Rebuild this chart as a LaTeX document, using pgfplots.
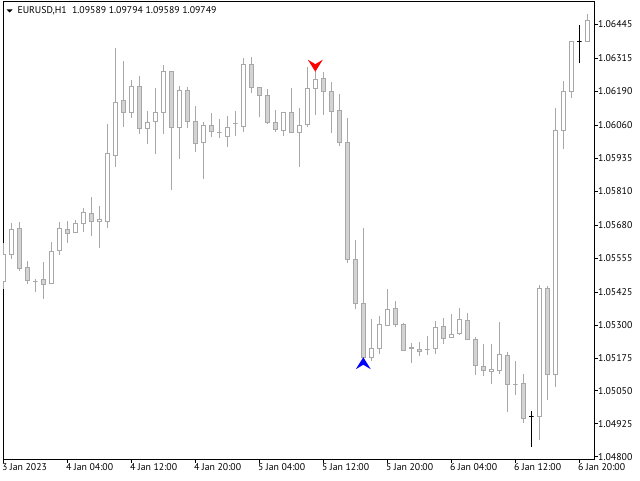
\documentclass[border=0pt]{standalone}
\usepackage{fontspec}
\setmainfont{PT Sans}
\usepackage{pgfplots}
\usepackage{pgfplotstable}
\pgfplotsset{compat=1.18}
\definecolor{wickgray}{RGB}{168,168,168}
\definecolor{bodygray}{RGB}{211,211,211}

\pgfdeclareplotmark{arrowup}{%
  \pgfpathmoveto{\pgfpoint{0pt}{0pt}}%
  \pgfpathlineto{\pgfpoint{-7.5pt}{-12pt}}%
  \pgfpathlineto{\pgfpoint{0pt}{-7.5pt}}%
  \pgfpathlineto{\pgfpoint{7.5pt}{-12pt}}%
  \pgfpathclose
  \pgfusepathqfill}
\pgfdeclareplotmark{arrowdown}{%
  \pgfpathmoveto{\pgfpoint{0pt}{0pt}}%
  \pgfpathlineto{\pgfpoint{-7.5pt}{12pt}}%
  \pgfpathlineto{\pgfpoint{0pt}{7.5pt}}%
  \pgfpathlineto{\pgfpoint{7.5pt}{12pt}}%
  \pgfpathclose
  \pgfusepathqfill}

\pgfplotsset{
  wick-u/.style={draw=wickgray, line width=1pt},
  wick-d/.style={draw=wickgray, line width=1pt},
  wick-b/.style={draw=black, line width=1pt},
  body-u/.style={draw=wickgray, fill=white, line width=1pt, line join=miter},
  body-d/.style={draw=wickgray, fill=bodygray, line width=1pt, line join=miter},
  body-b/.style={draw=black, fill=black, line width=1pt},
}

\pgfplotstableread{
k T O H L C
0 u 1.05467 1.05614 1.05437 1.05570
1 u 1.05570 1.05689 1.05553 1.05665
2 d 1.05668 1.05692 1.05507 1.05515
3 d 1.05520 1.05544 1.05458 1.05471
4 d 1.05467 1.05475 1.05427 1.05467
5 d 1.05475 1.05540 1.05401 1.05455
6 u 1.05458 1.05615 1.05455 1.05581
7 u 1.05585 1.05691 1.05568 1.05668
8 d 1.05663 1.05695 1.05614 1.05649
9 u 1.05653 1.05700 1.05649 1.05687
10 u 1.05687 1.05744 1.05654 1.05729
11 d 1.05725 1.05789 1.05640 1.05694
12 u 1.05694 1.05754 1.05595 1.05703
13 u 1.05694 1.06064 1.05671 1.05951
14 u 1.05946 1.06354 1.05903 1.06147
15 d 1.06155 1.06304 1.06055 1.06109
16 u 1.06109 1.06231 1.06087 1.06208
17 d 1.06208 1.06246 1.06026 1.06049
18 u 1.06049 1.06113 1.05988 1.06071
19 u 1.06075 1.06203 1.05950 1.06109
20 u 1.06109 1.06288 1.06026 1.06265
21 d 1.06265 1.06265 1.05813 1.06052
22 u 1.06052 1.06208 1.05931 1.06193
23 d 1.06193 1.06204 1.06049 1.06075
24 d 1.06075 1.06132 1.05957 1.05992
25 u 1.05995 1.06071 1.05855 1.06060
26 d 1.06060 1.06106 1.06014 1.06037
27 d 1.06033 1.06083 1.06011 1.06033
28 u 1.06018 1.06094 1.05976 1.06052
29 d 1.06068 1.06113 1.06018 1.06068
30 u 1.06056 1.06315 1.06033 1.06292
31 d 1.06292 1.06321 1.06184 1.06204
32 d 1.06204 1.06204 1.06090 1.06174
33 d 1.06174 1.06197 1.06064 1.06071
34 d 1.06071 1.06117 1.06036 1.06045
35 u 1.06041 1.06109 1.06018 1.06109
36 d 1.06109 1.06201 1.06030 1.06033
37 u 1.06033 1.06125 1.05903 1.06060
38 u 1.06064 1.06281 1.06052 1.06201
39 u 1.06201 1.06273 1.06098 1.06235
40 d 1.06239 1.06262 1.06100 1.06189
41 d 1.06190 1.06225 1.06032 1.06113
42 d 1.06117 1.06179 1.05982 1.05995
43 d 1.05995 1.06088 1.05535 1.05551
44 d 1.05551 1.05623 1.05360 1.05383
45 d 1.05383 1.05668 1.05178 1.05178
46 u 1.05178 1.05322 1.05163 1.05212
47 u 1.05212 1.05334 1.05189 1.05303
48 u 1.05300 1.05437 1.05296 1.05360
49 d 1.05364 1.05391 1.05292 1.05303
50 d 1.05303 1.05307 1.05205 1.05205
51 d 1.05214 1.05231 1.05155 1.05210
52 d 1.05208 1.05235 1.05182 1.05201
53 d 1.05208 1.05258 1.05186 1.05208
54 u 1.05212 1.05315 1.05189 1.05292
55 d 1.05296 1.05326 1.05227 1.05250
56 u 1.05254 1.05341 1.05250 1.05265
57 u 1.05269 1.05364 1.05262 1.05322
58 d 1.05319 1.05345 1.05243 1.05246
59 d 1.05246 1.05254 1.05110 1.05148
60 d 1.05144 1.05227 1.05106 1.05129
61 u 1.05125 1.05227 1.05075 1.05132
62 u 1.05129 1.05311 1.05113 1.05189
63 d 1.05186 1.05197 1.04969 1.05075
64 d 1.05075 1.05163 1.05033 1.05075
65 d 1.05079 1.05113 1.04927 1.04946
66 b 1.04951 1.04974 1.04836 1.04951
67 u 1.04951 1.05453 1.04865 1.05440
68 d 1.05440 1.05450 1.05016 1.05111
69 u 1.05111 1.06125 1.05064 1.06039
70 u 1.06042 1.06230 1.05969 1.06189
71 u 1.06189 1.06382 1.06165 1.06379
72 b 1.06379 1.06441 1.06296 1.06379
73 u 1.06379 1.06483 1.06379 1.06459
}\candles

\newcommand\lblfont{\fontsize{9.8}{11}\selectfont}

\begin{document}
\begin{tikzpicture}
\path[use as bounding box] (0,0) rectangle (640pt,480pt);
\begin{axis}[
  at={(3pt,21pt)}, anchor=south west,
  scale only axis, width=591pt, height=457pt,
  xmin=-0.0375, xmax=73.8375, ymin=1.04791, ymax=1.06529,
  axis line style={line width=1pt, black},
  xtick={0,8,16,24,32,40,48,56,64,72},
  xticklabels={3 Jan 2023,4 Jan 04:00,4 Jan 12:00,4 Jan 20:00,5 Jan 04:00,5 Jan 12:00,5 Jan 20:00,6 Jan 04:00,6 Jan 12:00,6 Jan 20:00},
  ytick={1.048,1.04925,1.0505,1.05175,1.053,1.05425,1.05555,1.0568,1.0581,1.05935,1.0606,1.0619,1.06315,1.06445},
  yticklabels={1.04800,1.04925,1.05050,1.05175,1.05300,1.05425,1.05555,1.05680,1.05810,1.05935,1.06060,1.06190,1.06315,1.06445},
  xtick pos=left, ytick pos=right, yticklabel pos=right,
  tick align=outside, major tick length=4pt,
  tick style={line width=1pt, black},
  xticklabel style={anchor=north west, inner sep=0pt, xshift=-1.5pt, font=\lblfont},
  yticklabel style={anchor=west, inner sep=0pt, font=\lblfont},
  clip=true,
]
\pgfplotstablegetrowsof{\candles}
\pgfmathtruncatemacro\lastrow{\pgfplotsretval-1}
\pgfplotsforeachungrouped \i in {0,...,\lastrow}{%
  \pgfplotstablegetelem{\i}{k}\of\candles \let\ck\pgfplotsretval
  \pgfplotstablegetelem{\i}{T}\of\candles \let\ct\pgfplotsretval
  \pgfplotstablegetelem{\i}{O}\of\candles \let\cO\pgfplotsretval
  \pgfplotstablegetelem{\i}{H}\of\candles \let\cH\pgfplotsretval
  \pgfplotstablegetelem{\i}{L}\of\candles \let\cL\pgfplotsretval
  \pgfplotstablegetelem{\i}{C}\of\candles \let\cC\pgfplotsretval
  \pgfmathsetmacro\xl{\ck-0.28}%
  \pgfmathsetmacro\xr{\ck+0.28}%
  \edef\temp{%
    \noexpand\addplot[wick-\ct] coordinates {(\ck,\cL) (\ck,\cH)};
    \noexpand\addplot[body-\ct] coordinates {(\xl,\cO) (\xr,\cO) (\xr,\cC) (\xl,\cC) (\xl,\cO)};
  }%
  \temp
}
\addplot[only marks, mark=arrowdown, color=red, mark options={fill=red}] coordinates {(39,1.06264)};
\addplot[only marks, mark=arrowup, color=blue, mark options={fill=blue}] coordinates {(45,1.05178)};
\end{axis}
\fill (6.7pt,470.5pt) -- (12.5pt,470.5pt) -- (9.6pt,467.5pt) -- cycle;
\node[anchor=base west, inner sep=0pt, font=\lblfont] at (17.3pt,466.5pt) {EURUSD,H1\ \ 1.09589 1.09794 1.09589 1.09749};
\end{tikzpicture}
\end{document}
